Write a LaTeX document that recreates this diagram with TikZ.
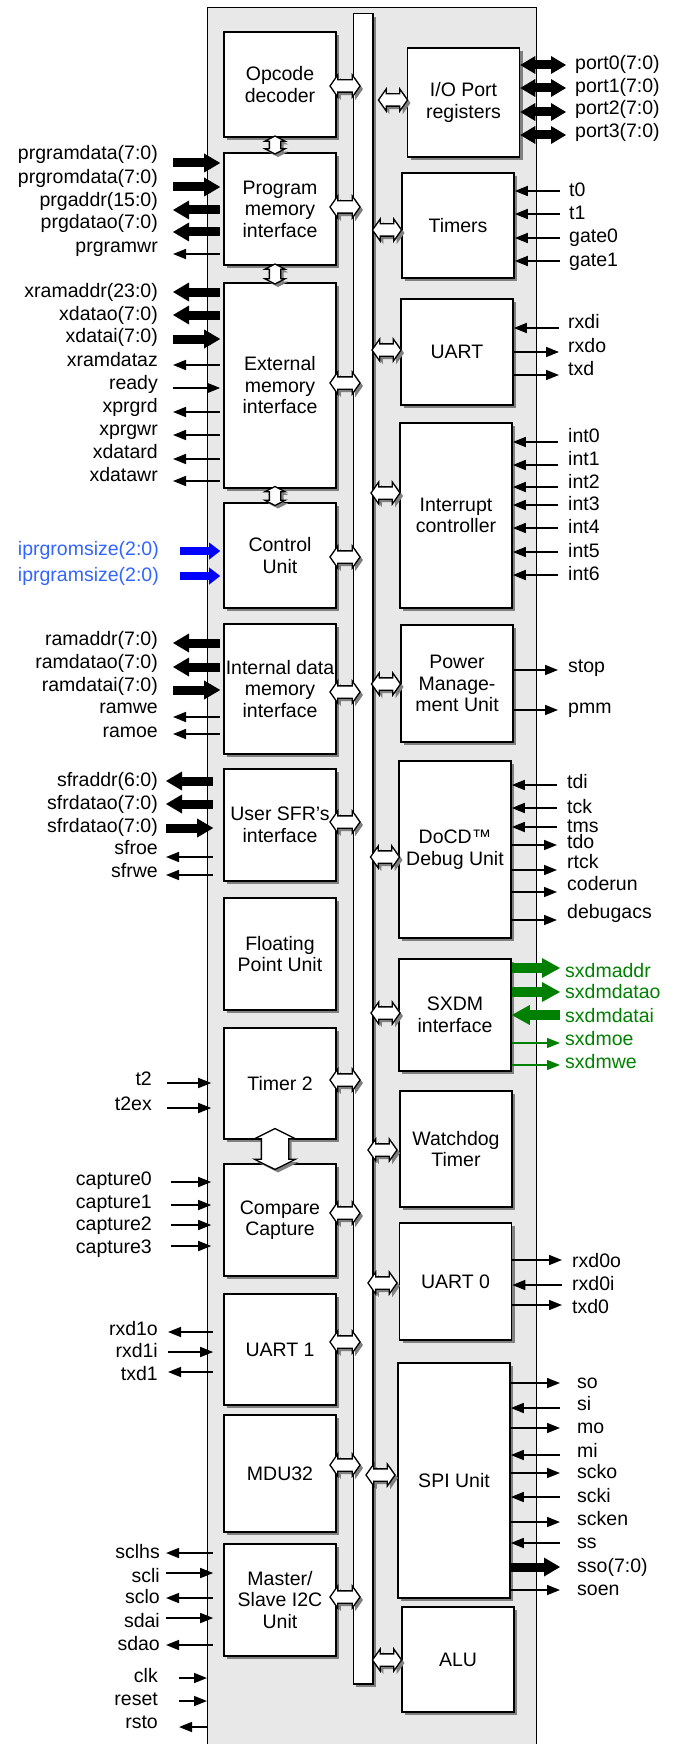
\documentclass[tikz,border=0pt]{standalone}
\usepackage{fontspec}
\setmainfont{Liberation Sans}
\usetikzlibrary{arrows.meta,shapes.arrows,shadows}
\definecolor{cfgtxt}{RGB}{50,100,255}
\definecolor{sxgreen}{RGB}{0,128,0}

\begin{document}
\begin{tikzpicture}[x=1pt,y=-1pt,
            every node/.style={font=\fontsize{19.5}{21.5}\selectfont},
            shdw/.style={drop shadow={shadow xshift=3pt,shadow yshift=-3pt,fill=black!50,opacity=1}},
            blk/.style={draw,fill=white,line width=1.6pt,minimum width=112,inner sep=0pt,align=center,shdw},
            hol/.style={double arrow,draw,fill=white,line width=1.3pt,inner xsep=0pt,inner ysep=5.5pt,
                double arrow head extend=5pt,double arrow tip angle=110,shdw},
            holv/.style={hol,shape border rotate=90,inner sep=5pt,double arrow head extend=4.5pt,double arrow tip angle=125},
            lab/.style={inner sep=0pt,text height=14pt,text depth=4pt},
            sigR/.style={line width=1.6pt,-{Triangle[length=13pt,width=10pt]}},
            sigL/.style={line width=1.6pt,{Triangle[length=13pt,width=10pt]}-},
            busR/.style={line width=9pt,-{Triangle[length=16pt,width=19pt,line width=0pt]}},
            busL/.style={line width=9pt,{Triangle[length=16pt,width=19pt,line width=0pt]}-},
            busLR/.style={line width=9pt,{Triangle[length=15pt,width=18pt,line width=0pt]}-{Triangle[length=15pt,width=18pt,line width=0pt]}},
            cfgR/.style={blue,line width=8pt,-{Triangle[length=11pt,width=17pt,line width=0pt]}},
            sxR/.style={sxgreen,line width=10pt,-{Triangle[length=18pt,width=20pt,line width=0pt]}},
            sxL/.style={sxgreen,line width=10pt,{Triangle[length=18pt,width=20pt,line width=0pt]}-},
            sxthR/.style={sxgreen,line width=1.3pt,-{Triangle[length=13pt,width=10pt]}}
          ]
          \useasboundingbox (0,0) rectangle (680,1744);

          % core and internal bus
          \node[draw,fill=black!9,line width=1.2pt,minimum width=329,minimum height=1743,anchor=north west,inner sep=0pt] (core) at (207,7) {};
          \node[draw,fill=white,line width=1.5pt,minimum width=19.5,minimum height=1670,anchor=north west,inner sep=0pt,shdw] (bus) at (352.5,13) {};

          % left column
          \node[blk,minimum height=105] (opc) at (280,84.5) {Opcode\\decoder};
          \node[blk,minimum height=112] (prg) at (280,209) {Program\\memory\\interface};
          \node[blk,minimum height=205] (ext) at (280,385.5) {External\\memory\\interface};
          \node[blk,minimum height=105] (ctl) at (280,555.5) {Control\\Unit};
          \node[blk,minimum height=130] (idm) at (280,689) {Internal data\\memory\\interface};
          \node[blk,minimum height=112] (sfr) at (280,825) {User SFR’s\\interface};
          \node[blk,minimum height=112] (fpu) at (280,954) {Floating\\Point Unit};
          \node[blk,minimum height=111] (tm2) at (280,1083.5) {Timer 2};
          \node[blk,minimum height=112] (cmp) at (280,1220) {Compare\\Capture};
          \node[blk,minimum height=111] (ua1) at (280,1349.5) {UART 1};
          \node[blk,minimum height=117] (mdu) at (280,1473.5) {MDU32};
          \node[blk,minimum height=112] (i2c) at (280,1600) {Master/\\Slave I2C\\Unit};

          % right column
          \node[blk,minimum height=109] (iop) at (463.5,102.5) {I/O Port\\registers};
          \node[blk,minimum height=105] (tmr) at (458,225.5) {Timers};
          \node[blk,minimum height=106] (uart) at (457,352) {UART};
          \node[blk,minimum height=185] (irq) at (456,515.5) {Interrupt\\controller};
          \node[blk,minimum height=117] (pmu) at (457,683.5) {Power\\Manage-\\ment Unit};
          \node[blk,minimum height=177] (ocd) at (455,849.5) {DoCD™\\Debug Unit};
          \node[blk,minimum height=112] (sxdm) at (455,1015) {SXDM\\interface};
          \node[blk,minimum height=116] (wdt) at (456,1149) {Watchdog\\Timer};
          \node[blk,minimum height=117] (ua0) at (455.5,1281.5) {UART 0};
          \node[blk,minimum height=235] (spi) at (454,1480.5) {SPI Unit};
          \node[blk,minimum height=105] (alu) at (458,1659.5) {ALU};

          % bus links
          \foreach \b/\y in {opc/86,prg/207,ext/383,ctl/557,idm/692,sfr/822,tm2/1080,cmp/1213,ua1/1342,mdu/1465,i2c/1597}
            \node[hol,minimum height=30] (lk\b) at (345,\y) {};
          \foreach \b/\x/\y in {iop/393/100,tmr/387/230,uart/386.5/350,irq/385.5/493,pmu/386/684,ocd/385/857,
                                sxdm/385.5/1013,wdt/382.5/1150,ua0/382.5/1283,spi/380.5/1475,alu/387/1660}
            \node[hol,minimum height=29] (lk\b) at (\x,\y) {};
          \node[holv,minimum height=18] (lkop) at (275,145) {};
          \node[holv,minimum height=20] (lkpe) at (275,274) {};
          \node[holv,minimum height=19] (lkec) at (275,496) {};
          \node[holv,minimum height=32,inner sep=13pt,double arrow head extend=7pt,double arrow tip angle=127] (lktc) at (275,1149) {};

          %left signals
          \foreach \ty/\ay/\s/\t in {155/163/busR/prgramdata(7:0),179/187/busR/prgromdata(7:0),202/210/busL/prgaddr(15:0),
                                     224/232/busL/prgdatao(7:0),247/254/sigL/prgramwr}{
            \coordinate (ls\ay) at (173,\ay);
            \draw[\s,shorten >=3pt] (ls\ay) -- (prg.west |- ls\ay);
            \node[lab,anchor=east] (ll\ay) at (158,\ty) {\t};
          }
          \foreach \ty/\ay/\s/\t in {292/292/busL/xramaddr(23:0),315/315/busL/xdatao(7:0),337/339/busR/xdatai(7:0),
                                     361/365/sigL/xramdataz,384/388/sigR/ready,407/412/sigL/xprgrd,430/435/sigL/xprgwr,
                                     453/459/sigL/xdatard,476/481/sigL/xdatawr}{
            \coordinate (ls\ay) at (173,\ay);
            \draw[\s,shorten >=3pt] (ls\ay) -- (ext.west |- ls\ay);
            \node[lab,anchor=east] (ll\ay) at (158,\ty) {\t};
          }
          \foreach \ty/\ay/\t in {550/551/iprgromsize(2:0),576/576/iprgramsize(2:0)}{
            \coordinate (ls\ay) at (180,\ay);
            \draw[cfgR,shorten >=3pt] (ls\ay) -- (ctl.west |- ls\ay);
            \node[lab,anchor=east,text=cfgtxt] (ll\ay) at (159,\ty) {\t};
          }
          \foreach \ty/\ay/\s/\t in {640/643/busL/ramaddr(7:0),663/667/busL/ramdatao(7:0),686/690/busR/ramdatai(7:0),
                                     708/717/sigL/ramwe,732/734/sigL/ramoe}{
            \coordinate (ls\ay) at (173,\ay);
            \draw[\s,shorten >=3pt] (ls\ay) -- (idm.west |- ls\ay);
            \node[lab,anchor=east] (ll\ay) at (158,\ty) {\t};
          }
          \foreach \ty/\ay/\s/\t in {781/781/busL/sfraddr(6:0),804/804/busL/sfrdatao(7:0),827/828/busR/sfrdatao(7:0),
                                     849/857/sigL/sfroe,872/875/sigL/sfrwe}{
            \coordinate (ls\ay) at (166,\ay);
            \draw[\s,shorten >=10pt] (ls\ay) -- (sfr.west |- ls\ay);
            \node[lab,anchor=east] (ll\ay) at (158,\ty) {\t};
          }
          \foreach \ty/\ay/\t in {1080/1083/t2,1105/1108/t2ex}{
            \coordinate (ls\ay) at (167,\ay);
            \draw[sigR,shorten >=12pt] (ls\ay) -- (tm2.west |- ls\ay);
            \node[lab,anchor=east] (ll\ay) at (152,\ty) {\t};
          }
          \foreach \ty/\ay/\t in {1180/1182/capture0,1203/1205/capture1,1225/1225/capture2,1248/1246/capture3}{
            \coordinate (ls\ay) at (171,\ay);
            \draw[sigR,shorten >=12pt] (ls\ay) -- (cmp.west |- ls\ay);
            \node[lab,anchor=east] (ll\ay) at (152,\ty) {\t};
          }
          \foreach \ty/\ay/\s/\t in {1330/1332/sigL/rxd1o,1352/1352/sigR/rxd1i,1375/1372/sigL/txd1}{
            \coordinate (ls\ay) at (168,\ay);
            \draw[\s,shorten >=10pt] (ls\ay) -- (ua1.west |- ls\ay);
            \node[lab,anchor=east] (ll\ay) at (158,\ty) {\t};
          }
          \foreach \ty/\ay/\s/\t in {1553/1553/sigL/sclhs,1577/1573/sigR/scli,1598/1598/sigL/sclo,
                                     1622/1618/sigR/sdai,1645/1645/sigL/sdao}{
            \coordinate (ls\ay) at (166,\ay);
            \draw[\s,shorten >=10pt] (ls\ay) -- (i2c.west |- ls\ay);
            \node[lab,anchor=east] (ll\ay) at (160,\ty) {\t};
          }
          \foreach \ty/\ay/\s/\t in {1677/1678/sigR/clk,1700/1701/sigR/reset,1723/1727/sigL/rsto}{
            \coordinate (ls\ay) at (179,\ay);
            \draw[\s] (ls\ay) -- (core.west |- ls\ay);
            \node[lab,anchor=east] (ll\ay) at (158,\ty) {\t};
          }

          %right signals
          \foreach \ty/\ay/\t in {65/65/port0(7:0),88/88/port1(7:0),110/112/port2(7:0),133/135/port3(7:0)}{
            \coordinate (re\ay) at (566,\ay);
            \draw[busLR] (iop.east |- re\ay) -- (re\ay);
            \node[lab,anchor=west] (rl\ay) at (575,\ty) {\t};
          }
          \foreach \ty/\ay/\t in {192/191/t0,215/214/t1,238/238/gate0,261/261/gate1}{
            \coordinate (re\ay) at (560,\ay);
            \draw[sigL] (tmr.east |- re\ay) -- (re\ay);
            \node[lab,anchor=west] (rl\ay) at (569,\ty) {\t};
          }
          \foreach \ty/\ay/\s/\t in {323/328/sigL/rxdi,347/352/sigR/rxdo,370/375/sigR/txd}{
            \coordinate (re\ay) at (559,\ay);
            \draw[\s] (uart.east |- re\ay) -- (re\ay);
            \node[lab,anchor=west] (rl\ay) at (568,\ty) {\t};
          }
          \foreach \ty/\ay/\t in {437/442/int0,460/465/int1,483/487/int2,505/505/int3,528/528/int4,552/552/int5,575/575/int6}{
            \coordinate (re\ay) at (558,\ay);
            \draw[sigL] (irq.east |- re\ay) -- (re\ay);
            \node[lab,anchor=west] (rl\ay) at (568,\ty) {\t};
          }
          \foreach \ty/\ay/\t in {667/670/stop,708/710/pmm}{
            \coordinate (re\ay) at (558,\ay);
            \draw[sigR] (pmu.east |- re\ay) -- (re\ay);
            \node[lab,anchor=west] (rl\ay) at (568,\ty) {\t};
          }
          \foreach \ty/\ay/\s/\t in {783/785/sigL/tdi,808/808/sigL/tck,827/827/sigL/tms,843/845/sigR/tdo,
                                     863/870/sigR/rtck,885/892/sigR/coderun,913/920/sigR/debugacs}{
            \coordinate (re\ay) at (557,\ay);
            \draw[\s] (ocd.east |- re\ay) -- (re\ay);
            \node[lab,anchor=west] (rl\ay) at (567,\ty) {\t};
          }
          \foreach \ty/\ay/\s/\t in {972/968/sxR/sxdmaddr,993/992/sxR/sxdmdatao,1017/1015/sxL/sxdmdatai,
                                     1040/1043/sxthR/sxdmoe,1063/1065/sxthR/sxdmwe}{
            \coordinate (re\ay) at (560,\ay);
            \draw[\s] (sxdm.east |- re\ay) -- (re\ay);
            \node[lab,anchor=west,text=sxgreen] (rl\ay) at (565,\ty) {\t};
          }
          \foreach \ty/\ay/\s/\t in {1262/1260/sigR/rxd0o,1285/1285/sigL/rxd0i,1308/1305/sigR/txd0}{
            \coordinate (re\ay) at (562,\ay);
            \draw[\s] (ua0.east |- re\ay) -- (re\ay);
            \node[lab,anchor=west] (rl\ay) at (572,\ty) {\t};
          }
          \foreach \ty/\ay/\s/\t in {1383/1383/sigR/so,1405/1408/sigL/si,1428/1428/sigR/mo,1452/1455/sigL/mi,
                                     1473/1473/sigR/scko,1497/1497/sigL/scki,1520/1522/sigR/scken,1543/1543/sigL/ss,
                                     1567/1567/busR/sso(7:0),1590/1590/sigR/soen}{
            \coordinate (re\ay) at (560,\ay);
            \draw[\s] (spi.east |- re\ay) -- (re\ay);
            \node[lab,anchor=west] (rl\ay) at (577,\ty) {\t};
          }
      \end{tikzpicture}
\end{document}
